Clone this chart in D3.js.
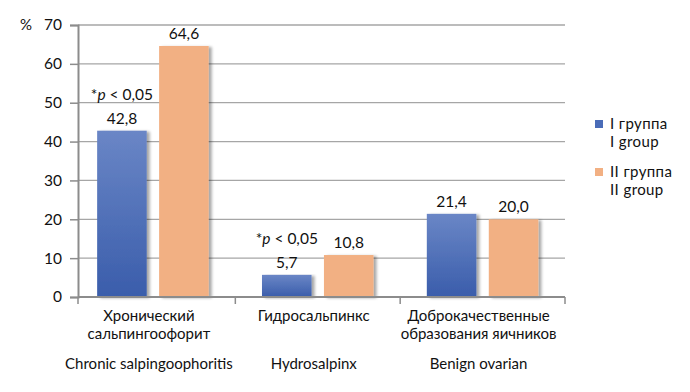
<!DOCTYPE html>
<html><head><meta charset="utf-8">
<script src="https://cdn.jsdelivr.net/npm/d3@7/dist/d3.min.js"></script>
<style>body{margin:0;background:#fff}svg{display:block}text{font-family:Lato,"Open Sans",sans-serif;fill:#111}</style>
</head><body>
<svg id="c" width="690" height="392"></svg>
<script>
const categoriesRu = [["Хронический","сальпингоофорит"],["Гидросальпинкс"],["Доброкачественные","образования яичников"]];
const categoriesEn = ["Chronic salpingoophoritis","Hydrosalpinx","Benign ovarian"];
const seriesNames = [["I группа","I group"],["II группа","II group"]];
const group1 = [42.8, 5.7, 21.4];
const group2 = [64.6, 10.8, 20.0];
const pNotes = ["*p < 0,05", "*p < 0,05", null];
const yTicks = [0,10,20,30,40,50,60,70];

const svg = d3.select("#c");
const defs = svg.append("defs");
const g1 = defs.append("linearGradient").attr("id","gb").attr("x1",0).attr("y1",0).attr("x2",0).attr("y2",1);
g1.append("stop").attr("offset","0%").attr("stop-color","#6a86c6");
g1.append("stop").attr("offset","100%").attr("stop-color","#3a5dab");
const sh = defs.append("filter").attr("id","sh").attr("x","-20%").attr("y","-5%").attr("width","150%").attr("height","115%");
sh.append("feGaussianBlur").attr("in","SourceAlpha").attr("stdDeviation",1.6);
sh.append("feOffset").attr("dx",3).attr("dy",1).attr("result","b");
sh.append("feComponentTransfer").append("feFuncA").attr("type","linear").attr("slope",0.35);
const fm = sh.append("feMerge"); fm.append("feMergeNode"); fm.append("feMergeNode").attr("in","SourceGraphic");

const axisX = 78, right = 565;
const y = d3.scaleLinear().domain([0,70]).range([297,25]);
const idx = d3.range(categoriesEn.length);
const x = d3.scaleBand().domain(idx).range([70.5, right]).paddingInner(0).paddingOuter(0);
const sub = d3.scaleBand().domain([0,1]).range([0, x.bandwidth()]).paddingInner(0.2).paddingOuter(0.43);

// gridlines
svg.append("g").selectAll("line").data(yTicks.filter(d=>d>0)).join("line")
  .attr("x1",axisX).attr("x2",right).attr("y1",d=>y(d)).attr("y2",d=>y(d))
  .attr("stroke","#a6a6a6").attr("stroke-width",1.3);
// y axis
const ya = svg.append("g").attr("transform",`translate(${axisX},0)`)
  .call(d3.axisLeft(y).tickValues(yTicks).tickSize(8).tickPadding(8));
ya.select(".domain").attr("stroke","#8c8c8c").attr("stroke-width",2);
ya.selectAll(".tick line").attr("stroke","#8c8c8c").attr("stroke-width",1.5);
ya.selectAll(".tick text").attr("font-size",15.5).attr("font-family","Lato").attr("fill","#111");
svg.append("text").attr("x",26).attr("y",y(70)+5).attr("text-anchor","middle").attr("font-size",15).text("%");

// bars
const data = [group1, group2];
const fills = ["url(#gb)","#f2b083"];
data.forEach((vals,s)=>{
  svg.append("g").selectAll("rect").data(vals).join("rect")
    .attr("x",(d,i)=>x(i)+sub(s)).attr("width",sub.bandwidth())
    .attr("y",d=>y(d)).attr("height",d=>y(0)-y(d))
    .attr("fill",fills[s]).attr("filter","url(#sh)");
  svg.append("g").selectAll("text").data(vals).join("text")
    .attr("x",(d,i)=>x(i)+sub(s)+sub.bandwidth()/2).attr("y",d=>y(d)-7)
    .attr("text-anchor","middle").attr("font-size",15.5)
    .text(d=>d.toFixed(1).replace(".",","));
});
// p notes
pNotes.forEach((p,i)=>{
  if(!p) return;
  const t = svg.append("text").attr("x",x(i)+sub(0)+sub.bandwidth()/2).attr("y",y(group1[i])-31)
    .attr("text-anchor","middle").attr("font-size",15.5);
  t.append("tspan").text("*");
  t.append("tspan").attr("font-style","italic").text("p");
  t.append("tspan").text(" < 0,05");
});

// x axis
const xa = svg.append("g");
xa.append("line").attr("x1",axisX).attr("x2",right).attr("y1",y(0)).attr("y2",y(0)).attr("stroke","#8c8c8c").attr("stroke-width",2);
xa.selectAll("line.t").data(idx).join("line").attr("class","t")
  .attr("x1",i=>x(i)+x.bandwidth()).attr("x2",i=>x(i)+x.bandwidth())
  .attr("y1",y(0)).attr("y2",y(0)+7).attr("stroke","#8c8c8c").attr("stroke-width",1.5);
xa.append("line").attr("x1",axisX).attr("x2",axisX).attr("y1",y(0)).attr("y2",y(0)+7).attr("stroke","#8c8c8c").attr("stroke-width",1.5);

idx.forEach(i=>{
  const cx = x(i)+x.bandwidth()/2 - 4;
  categoriesRu[i].forEach((line,k)=>{
    svg.append("text").attr("x",cx).attr("y",321+k*18).attr("text-anchor","middle").attr("font-size",15).text(line);
  });
  svg.append("text").attr("x",cx).attr("y",369).attr("text-anchor","middle").attr("font-size",15).text(categoriesEn[i]);
});

// legend
const lcol = ["#4a6cb8","#f2b083"];
seriesNames.forEach((names,s)=>{
  const ly = 120 + s*48;
  svg.append("rect").attr("x",595).attr("y",ly).attr("width",8).attr("height",8).attr("fill",lcol[s]);
  names.forEach((n,k)=>{
    svg.append("text").attr("x",610).attr("y",ly+9+k*18).attr("font-size",15).attr("letter-spacing",0.4).text(n);
  });
});
</script>
</body></html>
